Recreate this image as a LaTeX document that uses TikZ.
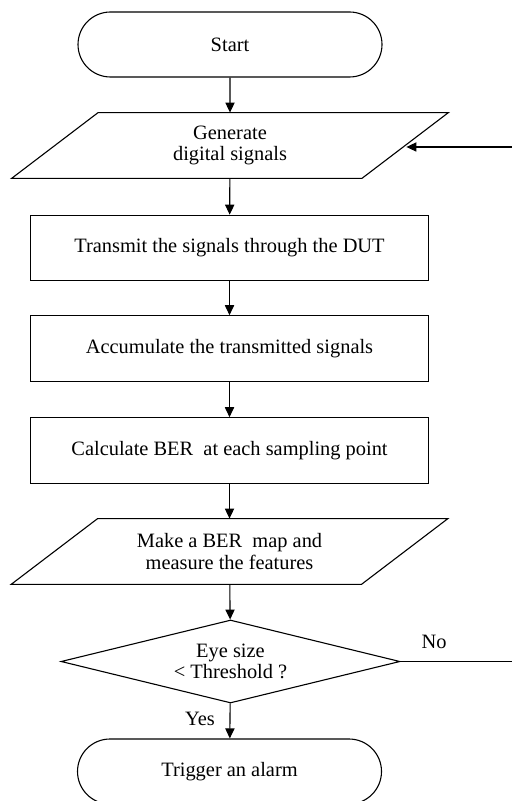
\documentclass[tikz,border=0pt]{standalone}
\usepackage{fontspec}
\setmainfont{Liberation Serif}
\usetikzlibrary{shapes.geometric,shapes.misc,arrows.meta,calc}
\begin{document}
\begin{tikzpicture}[x=0.5pt,y=-0.5pt,
  every node/.style={font=\fontsize{10.2}{10.8}\selectfont, align=center, text=black},
  base/.style={draw=black, line width=0.55pt},
  term/.style={base, rounded rectangle, minimum width=152pt, minimum height=32.5pt, inner sep=0pt},
  io/.style={rectangle, minimum width=218pt, minimum height=32.5pt, inner sep=0pt},
  proc/.style={base, rectangle, minimum width=199pt, minimum height=32.75pt, inner sep=0pt},
  decide/.style={base, diamond, aspect=4, minimum width=169.5pt, minimum height=41.5pt, inner sep=0pt},
  flow/.style={line width=0.55pt, -{Triangle[length=5pt,width=4.6pt]}},
  plain/.style={line width=0.55pt}]
\useasboundingbox (0,0) rectangle (512,801);
\node[term] (start) at (230,44.5) {Start};
\node[io] (gen) at (230,145.5) {Generate\\digital signals};
\node[proc] (tx) at (229.5,248) {Transmit the signals through the DUT};
\node[proc] (acc) at (229.5,348.5) {Accumulate the transmitted signals};
\node[proc] (ber) at (229.5,450.5) {Calculate BER\ \ at each sampling point};
\node[io] (map) at (229.5,551.5) {Make a BER\ \ map and\\measure the features};
\node[decide] (dec) at (230.5,661.5) {Eye size\\< Threshold ?};
\node[term] (alarm) at (229.5,771.5) {Trigger an alarm};
\foreach \n in {gen,map}{
  \draw[base] ($(\n.north west)+(86.5,0)$) -- (\n.north east)
    -- ($(\n.south east)+(-86.5,0)$) -- (\n.south west) -- cycle;
}
\coordinate (fbin) at (512,147);
\coordinate (fbout) at (512,661.5);
\coordinate (genright) at ($(gen.east)+(-42,0)$);
\draw[flow] (start) -- (gen);
\draw[flow] (gen) -- (tx);
\draw[flow] (tx) -- (acc);
\draw[flow] (acc) -- (ber);
\draw[flow] (ber) -- (map);
\draw[flow] (map) -- (dec);
\draw[flow] (dec) -- node[left=4pt, pos=0.45] (yes) {Yes} (alarm);
\draw[plain] (dec.east) -- node[above=3pt, pos=0.3] (no) {No} (fbout);
\draw[flow] (fbin) -- (fbin -| genright);
\end{tikzpicture}
\end{document}
